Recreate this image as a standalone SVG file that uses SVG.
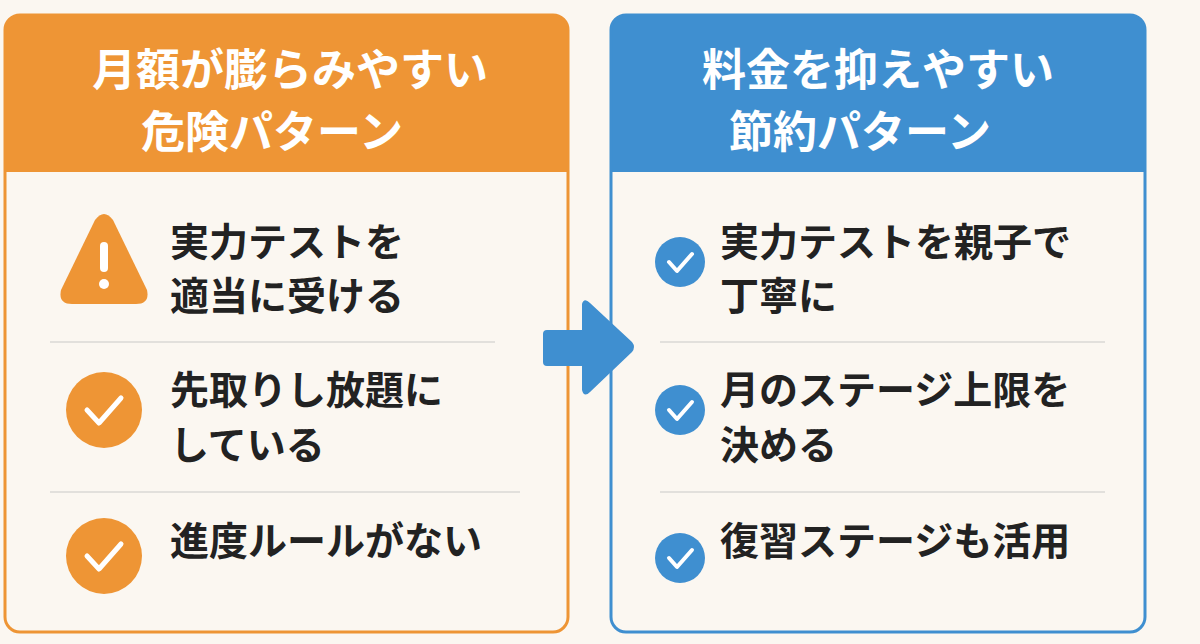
<svg xmlns="http://www.w3.org/2000/svg" width="1200" height="644" viewBox="0 0 1200 644">
<style>
.h{font-family:"Noto Sans CJK JP",sans-serif;font-weight:700;font-size:44px;fill:#fff;text-anchor:middle}
.t{font-family:"Noto Sans CJK JP",sans-serif;font-weight:700;font-size:39px;fill:#222}
.sep{stroke:#e2e0dc;stroke-width:2}
.ck{fill:none;stroke:#fff;stroke-width:5;stroke-linecap:round;stroke-linejoin:round}
</style>
<rect width="1200" height="644" fill="#fbf7f1"/>
<g id="left">
<path d="M5 172 V30 Q5 15 20 15 H553 Q568 15 568 30 V172 Z" fill="#ee9535"/>
<rect x="6.5" y="172" width="560" height="458" rx="12" fill="#fbf7f1"/>
<rect x="5" y="15" width="563" height="617" rx="15" fill="none" stroke="#ee9535" stroke-width="3"/>
<text class="h" x="290" y="86">月額が膨らみやすい</text>
<text class="h" x="272" y="148">危険パターン</text>
<line class="sep" x1="50" y1="342" x2="495" y2="342"/>
<line class="sep" x1="50" y1="492" x2="520" y2="492"/>
<path d="M95 220 Q104 208 113 220 L147 290 Q150 304 136 304 H72 Q58 304 61 290 Z" fill="#ee9535"/>
<rect x="100" y="242" width="8" height="30" rx="4" fill="#fff"/>
<circle cx="104" cy="284" r="5" fill="#fff"/>
<text class="t" x="170" y="256">実力テストを</text>
<text class="t" x="170" y="310">適当に受ける</text>
<circle cx="104" cy="410" r="38" fill="#ee9535"/>
<path class="ck" d="M87 410 L99 423 L121 398"/>
<text class="t" x="170" y="404">先取りし放題に</text>
<text class="t" x="170" y="459">している</text>
<circle cx="104" cy="556" r="38" fill="#ee9535"/>
<path class="ck" d="M87 556 L99 569 L121 544"/>
<text class="t" x="170" y="555">進度ルールがない</text>
</g>
<g id="right">
<path d="M611 172 V30 Q611 15 626 15 H1130 Q1145 15 1145 30 V172 Z" fill="#3f8fd0"/>
<rect x="612.5" y="172" width="531" height="458" rx="12" fill="#fbf7f1"/>
<rect x="611" y="15" width="534" height="617" rx="15" fill="none" stroke="#3f8fd0" stroke-width="3"/>
<text class="h" x="878" y="86">料金を抑えやすい</text>
<text class="h" x="860" y="148">節約パターン</text>
<line class="sep" x1="660" y1="342" x2="1105" y2="342"/>
<line class="sep" x1="660" y1="492" x2="1105" y2="492"/>
<circle cx="680" cy="262" r="25" fill="#3f8fd0"/>
<path class="ck" d="M669 262 L677 271 L692 254" style="stroke-width:4"/>
<text class="t" x="720" y="256">実力テストを親子で</text>
<text class="t" x="720" y="310">丁寧に</text>
<circle cx="680" cy="410" r="25" fill="#3f8fd0"/>
<path class="ck" d="M669 410 L677 419 L692 402" style="stroke-width:4"/>
<text class="t" x="720" y="404">月のステージ上限を</text>
<text class="t" x="720" y="459">決める</text>
<circle cx="680" cy="558" r="25" fill="#3f8fd0"/>
<path class="ck" d="M669 558 L677 567 L692 550" style="stroke-width:4"/>
<text class="t" x="720" y="555">復習ステージも活用</text>
</g>
<g id="connectors">
<path d="M547 330 H582 V304 Q584 297 590 303 L632 342 Q636 347 632 352 L590 392 Q584 398 582 390 V366 H547 Q543 366 543 362 V334 Q543 330 547 330 Z" fill="#3f8fd0"/>
</g>
</svg>
